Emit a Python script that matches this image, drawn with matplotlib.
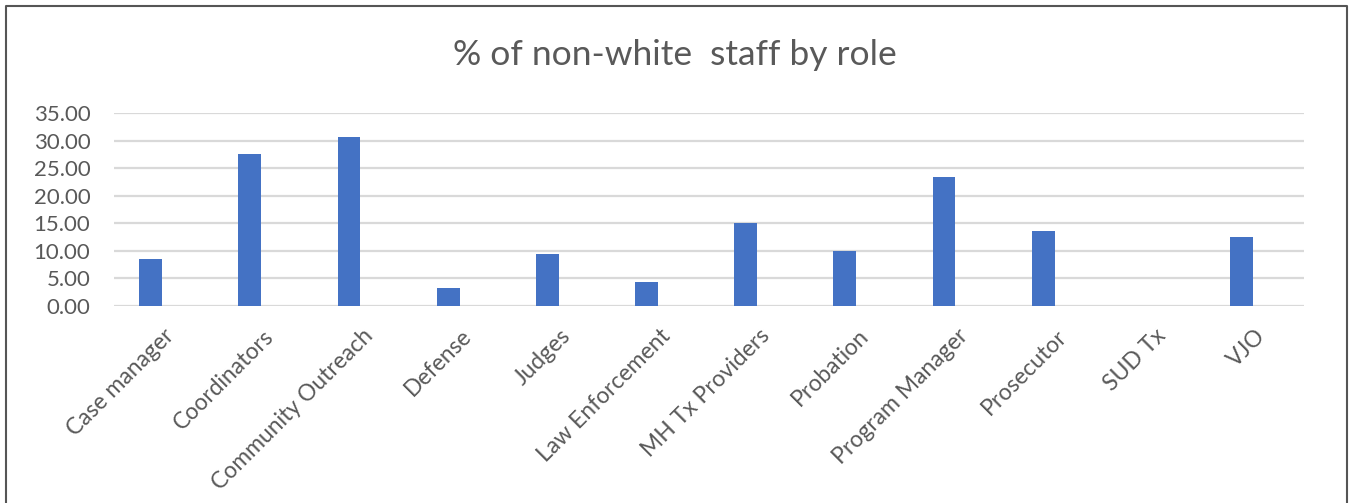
import numpy as np
import matplotlib.pyplot as plt
from matplotlib.lines import Line2D

# data
roles = ['Case manager', 'Coordinators', 'Community Outreach', 'Defense', 'Judges',
         'Law Enforcement', 'MH Tx Providers', 'Probation', 'Program Manager',
         'Prosecutor', 'SUD Tx', 'VJO']
pct_nonwhite = [8.47, 27.5, 30.6, 3.26, 9.49, 4.3, 15.1, 9.97, 23.4, 13.6, 0.0, 12.57]
y_ticks = [0, 5, 10, 15, 20, 25, 30, 35]

plt.rcParams['font.family'] = ['Lato', 'DejaVu Sans']
grey = '#595959'

fig = plt.figure(figsize=(13.5, 5.03), dpi=100)
ax = fig.add_axes([0.0844, 0.3917, 0.8816, 0.3836])

x = np.arange(len(roles))
# bars sit a little left of the category centre, like in the excel original
ax.bar(x - 0.13, pct_nonwhite, width=0.23, color='#4472C4', zorder=3)

ax.set_xlim(-0.5, len(roles) - 0.5)
ax.set_ylim(0, 35)
ax.set_yticks(y_ticks)
ax.set_yticklabels([f'{v:.2f}' for v in y_ticks], fontsize=16, color=grey)
ax.set_xticks(x)
ax.set_xticklabels(roles, rotation=45, ha='right', rotation_mode='anchor',
                   fontsize=16.5, color=grey)
ax.tick_params(axis='both', length=0)
ax.tick_params(axis='x', pad=14)
ax.tick_params(axis='y', pad=17)
ax.grid(axis='y', color='#d9d9d9', linewidth=1.6, zorder=0)
for s in ax.spines.values():
    s.set_visible(False)

fig.text(0.5, 1 - 55 / 503, '% of non-white  staff by role', ha='center', va='center',
         fontsize=25.5, color=grey)

# outer chart frame (left, top, right; bottom is cut off)
fx = [6 / 1350, 6 / 1350, 1347 / 1350, 1347 / 1350]
fy = [0.0, 1 - 6 / 503, 1 - 6 / 503, 0.0]
fig.lines.append(Line2D(fx, fy, transform=fig.transFigure, color='#555555', linewidth=1.5))

fig.savefig('out.png', dpi=100)
